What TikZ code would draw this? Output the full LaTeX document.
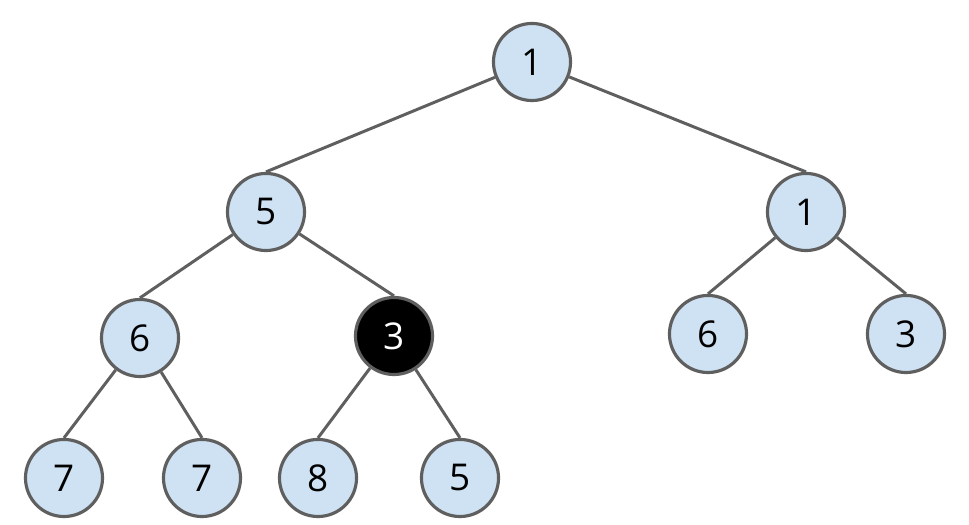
\documentclass[tikz,border=0pt]{standalone}
\usepackage{fontspec}
\setmainfont{Open Sans}
\definecolor{nodefill}{HTML}{CFE2F3}
\definecolor{edgegray}{HTML}{5F5F5F}

\begin{document}
\begin{tikzpicture}[x=0.01cm, y=-0.01cm,
        font=\fontsize{10.5}{12}\selectfont,
        key/.style={draw=edgegray, circle, line width=0.9pt, minimum size=0.77cm, inner sep=0pt, fill=nodefill, text=black},
        hot/.style={key, fill=black, text=white},
        edge/.style={draw=edgegray, line width=0.85pt}
    ]
        \useasboundingbox (0,0) rectangle (969,525);

        \node[key] (root) at (532,62)  {1};
        \node[key] (l)    at (266,212) {5};
        \node[key] (r)    at (806,212) {1};
        \node[key] (ll)   at (140,338) {6};
        \node[hot] (lr)   at (394,336) {3};
        \node[key] (rl)   at (708,334) {6};
        \node[key] (rr)   at (906,334) {3};
        \node[key] (lll)  at (64,478)  {7};
        \node[key] (llr)  at (202,478) {7};
        \node[key] (lrl)  at (318,478) {8};
        \node[key] (lrr)  at (460,478) {5};

        % edges run into the top of each child
        \draw[edge] (root) -- (l.north);
        \draw[edge] (root) -- (r.north);
        \draw[edge] (l) -- (ll.north);
        \draw[edge] (l) -- (lr.north);
        \draw[edge] (r) -- (rl.north);
        \draw[edge] (r) -- (rr.north);
        \draw[edge] (ll) -- (lll.north);
        \draw[edge] (ll) -- (llr.north);
        \draw[edge] (lr) -- (lrl.north);
        \draw[edge] (lr) -- (lrr.north);
    \end{tikzpicture}
\end{document}
